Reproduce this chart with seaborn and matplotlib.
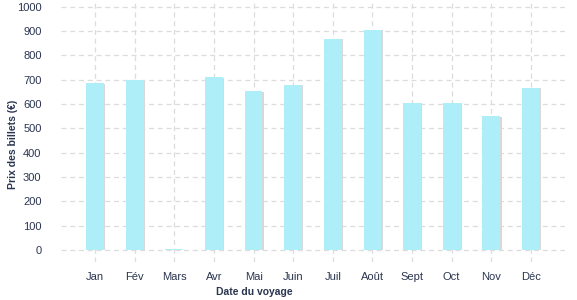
import matplotlib
matplotlib.use("Agg")
import matplotlib.pyplot as plt
import matplotlib.patheffects as pe
import seaborn as sns
import pandas as pd

months = ["Jan", "Fév", "Mars", "Avr", "Mai", "Juin", "Juil", "Août", "Sept", "Oct", "Nov", "Déc"]
prices = [685, 697, 3, 709, 653, 678, 868, 905, 604, 604, 550, 666]
yticks = [0, 100, 200, 300, 400, 500, 600, 700, 800, 900, 1000]

sns.set_theme(style="white")
plt.rcParams["font.family"] = ["Liberation Sans", "DejaVu Sans"]

text_color = "#2b3550"
df = pd.DataFrame({"Mois": months, "Prix": prices})

fig = plt.figure(figsize=(5.77, 3.0), dpi=100)
ax = fig.add_axes([61 / 577, 1 - 262 / 300, 504 / 577, 262 / 300])

sns.barplot(data=df, x="Mois", y="Prix", color="#adeef8", width=0.45,
            saturation=1, ax=ax, zorder=3)
for p in ax.patches:
    p.set_edgecolor("none")
    p.set_path_effects([pe.SimplePatchShadow(offset=(1.0, -0.4), shadow_rgbFace="#d8d8d8", alpha=1),
                        pe.Normal()])

ax.set_xlim(-0.86, 11.86)
ax.set_ylim(-50, 1027)
ax.set_yticks(yticks)
ax.set_yticklabels([str(v) for v in yticks])

ax.grid(True, axis="both", color="#dcdcdc", linestyle=(0, (4, 3)), linewidth=0.9, zorder=0)
ax.set_axisbelow(True)
for s in ax.spines.values():
    s.set_visible(False)

ax.tick_params(axis="y", length=0, pad=14, labelsize=8, labelcolor=text_color)
ax.tick_params(axis="x", length=0, pad=7, labelsize=8, labelcolor=text_color)

ax.set_xlabel("Date du voyage", fontsize=7.5, fontweight="bold", color=text_color)
ax.set_ylabel("Prix des billets (€)", fontsize=7.5, fontweight="bold", color=text_color)
ax.xaxis.set_label_coords((254 - 61) / 504, (262 - 287) / 262)
ax.yaxis.set_label_coords((18 - 61) / 504, (262 - 144) / 262)

fig.savefig("out.png", dpi=100)
